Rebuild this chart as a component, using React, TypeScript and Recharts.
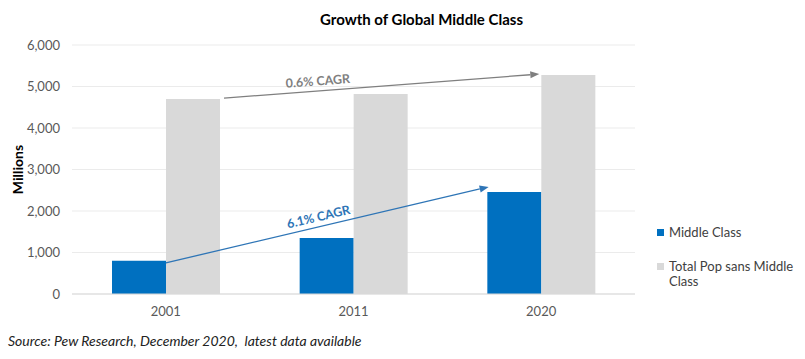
import { BarChart, Bar, XAxis, YAxis, CartesianGrid, Legend, ReferenceLine } from 'recharts';

const years = ['2001', '2011', '2020'];
const middleClass = [800, 1350, 2460];
const totalSansMiddle = [4700, 4820, 5280];
const yTicks = [0, 1000, 2000, 3000, 4000, 5000, 6000];

// CAGR arrows, in data space (x on a 0..3 position axis, y in millions)
const cagrLabels = ['0.6% CAGR', '6.1% CAGR'];
const cagrFrom = [[0.81, 4720], [0.5, 750]];
const cagrTo = [[2.49, 5300], [2.22, 2580]];
const cagrColors = ['#7F7F7F', '#2E75B6'];
const cagrLabelAt = [0.3, 0.48];

const FONT = 'Lato, "Open Sans", sans-serif';

const data = years.map((year, i) => ({
    year,
    slot: i + 0.5,
    middle: middleClass[i],
    rest: totalSansMiddle[i],
}));

const fmt = (v: number) => v.toLocaleString('en-US');

function makeArrow(label: string, color: string, t: number) {
    return (props: any) => {
        const { x1, y1, x2, y2 } = props;
        const dx = x2 - x1;
        const dy = y2 - y1;
        const len = Math.sqrt(dx * dx + dy * dy);
        const ux = dx / len;
        const uy = dy / len;
        const angle = (Math.atan2(dy, dx) * 180) / Math.PI;
        const head = 9;
        const half = 3.5;
        const bx = x2 - ux * head;
        const by = y2 - uy * head;
        const pts = `${x2},${y2} ${bx - uy * half},${by + ux * half} ${bx + uy * half},${by - ux * half}`;
        const tx = x1 + dx * t + uy * 10;
        const ty = y1 + dy * t - ux * 10;
        return (
            <g>
                <line x1={x1} y1={y1} x2={bx} y2={by} stroke={color} strokeWidth={1.3} />
                <polygon points={pts} fill={color} />
                <text
                    x={tx}
                    y={ty}
                    transform={`rotate(${angle} ${tx} ${ty})`}
                    textAnchor="middle"
                    dominantBaseline="central"
                    fill={color}
                    fontSize={12.5}
                    fontWeight="bold"
                    fontFamily={FONT}
                >
                    {label}
                </text>
            </g>
        );
    };
}

function LegendContent(props: any) {
    const { payload } = props;
    return (
        <div style={{ fontFamily: FONT, fontSize: 13, color: '#404040', lineHeight: '15px' }}>
            {(payload || []).map((entry: any, i: number) => (
                <div key={i} style={{ display: 'flex', alignItems: 'flex-start', marginBottom: 19 }}>
                    <span style={{ display: 'inline-block', width: 7, height: 7, background: entry.color, marginTop: 4, marginRight: 5, flexShrink: 0 }} />
                    <span style={{ width: 125 }}>{entry.value}</span>
                </div>
            ))}
        </div>
    );
}

export default function App() {
    return (
        <div style={{ position: 'relative', width: 805, height: 359, background: '#fff' }}>
            <style>{'body{margin:0}'}</style>
            <div style={{ position: 'absolute', top: 10, left: 0, width: 843, textAlign: 'center', fontFamily: FONT, fontWeight: 'bold', fontSize: 15, color: '#000' }}>
                Growth of Global Middle Class
            </div>
            <BarChart
                width={805}
                height={359}
                data={data}
                margin={{ top: 45, right: 170, left: 12, bottom: 35 }}
                barSize={54}
                barGap={0}
            >
                <CartesianGrid vertical={false} stroke="#EBEBEB" />
                <XAxis
                    dataKey="year"
                    axisLine={{ stroke: '#D9D9D9' }}
                    tickLine={false}
                    tickMargin={7}
                    height={30}
                    tick={{ fill: '#595959', fontSize: 13, fontFamily: FONT }}
                />
                <XAxis xAxisId="pos" dataKey="slot" type="number" domain={[0, 3]} allowDataOverflow hide />
                <YAxis
                    width={60}
                    domain={[0, 6000]}
                    ticks={yTicks}
                    tickFormatter={fmt}
                    axisLine={false}
                    tickLine={false}
                    tickMargin={6}
                    tick={{ fill: '#595959', fontSize: 13, fontFamily: FONT }}
                    label={{
                        value: 'Millions',
                        content: (p: any) => {
                            const vb = p.viewBox;
                            const x = vb.x + 5;
                            const y = vb.y + vb.height / 2;
                            return (
                                <text x={x} y={y} transform={`rotate(-90 ${x} ${y})`} textAnchor="middle" dominantBaseline="central" fontFamily={FONT} fontWeight="bold" fontSize={14} fill="#000">
                                    Millions
                                </text>
                            );
                        },
                    }}
                />
                <Legend
                    layout="vertical"
                    align="center"
                    verticalAlign="middle"
                    content={<LegendContent />}
                    wrapperStyle={{ left: 657, top: 225, width: 148 }}
                />
                <Bar dataKey="middle" name="Middle Class" fill="#0070C0" isAnimationActive={false} />
                <Bar dataKey="rest" name="Total Pop sans Middle Class" fill="#D9D9D9" isAnimationActive={false} />
                {cagrLabels.map((label, i) => (
                    <ReferenceLine
                        key={label}
                        xAxisId="pos"
                        ifOverflow="visible"
                        segment={[
                            { x: cagrFrom[i][0], y: cagrFrom[i][1] },
                            { x: cagrTo[i][0], y: cagrTo[i][1] },
                        ]}
                        shape={makeArrow(label, cagrColors[i], cagrLabelAt[i])}
                    />
                ))}
            </BarChart>
            <div style={{ position: 'absolute', left: 8, top: 332, fontFamily: FONT, fontStyle: 'italic', fontSize: 14, color: '#222', whiteSpace: 'pre' }}>
                {'Source: Pew Research, December 2020,  latest data available'}
            </div>
        </div>
    );
}
